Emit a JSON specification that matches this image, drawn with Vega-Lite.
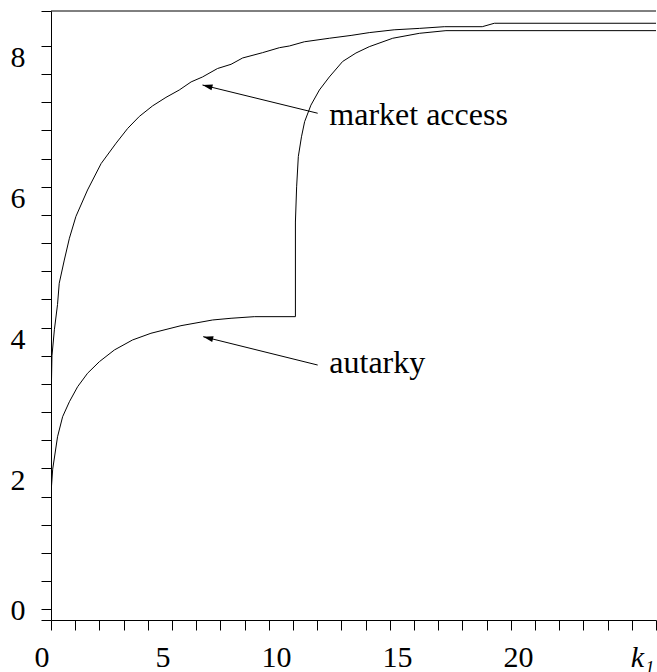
{
  "$schema": "https://vega.github.io/schema/vega-lite/v6.json",
  "width": 605,
  "height": 609,
  "autosize": "none",
  "padding": {"left": 51, "top": 11, "right": 1, "bottom": 52},
  "background": "white",
  "config": {"view": {"stroke": null}},
  "datasets": {
    "curves": [
      {"series": "market access", "order": 1, "x": 0, "y": 2.88},
      {"series": "market access", "order": 2, "x": 0.04, "y": 3.6},
      {"series": "market access", "order": 3, "x": 0.14, "y": 3.97},
      {"series": "market access", "order": 4, "x": 0.27, "y": 4.33},
      {"series": "market access", "order": 5, "x": 0.34, "y": 4.63},
      {"series": "market access", "order": 6, "x": 0.55, "y": 4.96},
      {"series": "market access", "order": 7, "x": 0.76, "y": 5.27},
      {"series": "market access", "order": 8, "x": 1.03, "y": 5.58},
      {"series": "market access", "order": 9, "x": 1.51, "y": 5.955},
      {"series": "market access", "order": 10, "x": 2.07, "y": 6.33},
      {"series": "market access", "order": 11, "x": 2.69, "y": 6.62},
      {"series": "market access", "order": 12, "x": 3.17, "y": 6.83},
      {"series": "market access", "order": 13, "x": 3.65, "y": 7.0},
      {"series": "market access", "order": 14, "x": 4.2, "y": 7.15},
      {"series": "market access", "order": 15, "x": 4.75, "y": 7.27},
      {"series": "market access", "order": 16, "x": 5.3, "y": 7.375},
      {"series": "market access", "order": 17, "x": 5.79, "y": 7.49},
      {"series": "market access", "order": 18, "x": 6.26, "y": 7.56},
      {"series": "market access", "order": 19, "x": 6.88, "y": 7.68},
      {"series": "market access", "order": 20, "x": 7.44, "y": 7.74},
      {"series": "market access", "order": 21, "x": 7.92, "y": 7.83},
      {"series": "market access", "order": 22, "x": 8.74, "y": 7.905},
      {"series": "market access", "order": 23, "x": 9.44, "y": 7.976},
      {"series": "market access", "order": 24, "x": 9.85, "y": 8.0},
      {"series": "market access", "order": 25, "x": 10.47, "y": 8.06},
      {"series": "market access", "order": 26, "x": 11.5, "y": 8.11},
      {"series": "market access", "order": 27, "x": 12.4, "y": 8.15},
      {"series": "market access", "order": 28, "x": 13.15, "y": 8.19},
      {"series": "market access", "order": 29, "x": 14.18, "y": 8.23},
      {"series": "market access", "order": 30, "x": 15.22, "y": 8.25},
      {"series": "market access", "order": 31, "x": 16.25, "y": 8.274},
      {"series": "market access", "order": 32, "x": 17.82, "y": 8.274},
      {"series": "market access", "order": 33, "x": 18.32, "y": 8.323},
      {"series": "market access", "order": 34, "x": 25, "y": 8.323},
      {"series": "autarky", "order": 1, "x": 0, "y": 1.65},
      {"series": "autarky", "order": 2, "x": 0.07, "y": 1.99},
      {"series": "autarky", "order": 3, "x": 0.27, "y": 2.45},
      {"series": "autarky", "order": 4, "x": 0.48, "y": 2.735},
      {"series": "autarky", "order": 5, "x": 0.76, "y": 2.948},
      {"series": "autarky", "order": 6, "x": 1.1, "y": 3.161},
      {"series": "autarky", "order": 7, "x": 1.51, "y": 3.352},
      {"series": "autarky", "order": 8, "x": 2.0, "y": 3.517},
      {"series": "autarky", "order": 9, "x": 2.62, "y": 3.683},
      {"series": "autarky", "order": 10, "x": 3.37, "y": 3.825},
      {"series": "autarky", "order": 11, "x": 4.13, "y": 3.92},
      {"series": "autarky", "order": 12, "x": 5.37, "y": 4.028},
      {"series": "autarky", "order": 13, "x": 6.68, "y": 4.109},
      {"series": "autarky", "order": 14, "x": 7.44, "y": 4.133},
      {"series": "autarky", "order": 15, "x": 8.4, "y": 4.156},
      {"series": "autarky", "order": 16, "x": 10.1, "y": 4.156},
      {"series": "autarky", "order": 17, "x": 10.1, "y": 5.5},
      {"series": "autarky", "order": 18, "x": 10.15, "y": 6.0},
      {"series": "autarky", "order": 19, "x": 10.22, "y": 6.43},
      {"series": "autarky", "order": 20, "x": 10.35, "y": 6.71},
      {"series": "autarky", "order": 21, "x": 10.48, "y": 6.925},
      {"series": "autarky", "order": 22, "x": 10.74, "y": 7.16},
      {"series": "autarky", "order": 23, "x": 11.09, "y": 7.375},
      {"series": "autarky", "order": 24, "x": 11.5, "y": 7.56},
      {"series": "autarky", "order": 25, "x": 12.05, "y": 7.78},
      {"series": "autarky", "order": 26, "x": 12.6, "y": 7.9},
      {"series": "autarky", "order": 27, "x": 13.15, "y": 7.99},
      {"series": "autarky", "order": 28, "x": 14.12, "y": 8.11},
      {"series": "autarky", "order": 29, "x": 15.22, "y": 8.18},
      {"series": "autarky", "order": 30, "x": 16.32, "y": 8.218},
      {"series": "autarky", "order": 31, "x": 25, "y": 8.218}
    ],
    "annotations": [
      {"label": "market access", "x": 6.26, "y": 7.446, "x2": 11.02, "y2": 7.045, "tx": 11.5, "ty": 6.878},
      {"label": "autarky", "x": 6.29, "y": 3.872, "x2": 11.02, "y2": 3.469, "tx": 11.5, "ty": 3.36}
    ]
  },
  "layer": [
    {
      "data": {"name": "curves"},
      "mark": {"type": "line", "stroke": "black", "strokeWidth": 1, "clip": true},
      "encoding": {
        "x": {
          "field": "x", "type": "quantitative",
          "scale": {"domain": [0, 25], "nice": false, "zero": false},
          "axis": {
            "title": null,
            "values": [0,1,2,3,4,5,6,7,8,9,10,11,12,13,14,15,16,17,18,19,20,21,22,23,24,25],
            "tickCount": 200,
            "grid": false,
            "domainColor": "black",
            "tickColor": "black",
            "tickSize": 10,
            "labelFont": "Liberation Serif",
            "labelFontSize": 30,
            "labelColor": "black",
            "labelAlign": "right",
            "labelBaseline": "alphabetic",
            "labelPadding": 36,
            "labelOffset": -2,
            "labelFlush": false,
            "labelOverlap": false,
            "labelBound": false,
            "labelFontStyle": {"condition": {"test": "datum.value == 25", "value": "italic"}, "value": "normal"},
            "labelExpr": "datum.value == 25 ? 'k₁' : (datum.value % 5 == 0 ? format(datum.value, 'd') : '')"
          }
        },
        "y": {
          "field": "y", "type": "quantitative",
          "scale": {"domain": [-0.152, 8.497], "nice": false, "zero": false},
          "axis": {
            "title": null,
            "values": [-0.152, 0, 0.4, 0.8, 1.2, 1.6, 2, 2.4, 2.8, 3.2, 3.6, 4, 4.4, 4.8, 5.2, 5.6, 6, 6.4, 6.8, 7.2, 7.6, 8, 8.497],
            "tickCount": 200,
            "grid": false,
            "domainColor": "black",
            "tickColor": "black",
            "tickSize": 10,
            "labelFont": "Liberation Serif",
            "labelFontSize": 30,
            "labelColor": "black",
            "labelAlign": "right",
            "labelBaseline": "alphabetic",
            "labelPadding": 16,
            "labelOffset": {"condition": {"test": "datum.value == 0", "value": 10}, "value": 21},
            "labelFlush": false,
            "labelOverlap": false,
            "labelBound": false,
            "labelExpr": "indexof([0,2,4,6,8], datum.value) >= 0 ? format(datum.value, 'd') : ''"
          }
        },
        "detail": {"field": "series"},
        "order": {"field": "order", "type": "quantitative"}
      }
    },
    {
      "data": {"values": [{}]},
      "mark": {"type": "rule", "stroke": "black", "strokeWidth": 1},
      "encoding": {"y": {"datum": 8.497}}
    },
    {
      "data": {"name": "annotations"},
      "mark": {"type": "rule", "stroke": "black", "strokeWidth": 1},
      "encoding": {
        "x": {"field": "x", "type": "quantitative", "title": null},
        "y": {"field": "y", "type": "quantitative", "title": null},
        "x2": {"field": "x2"},
        "y2": {"field": "y2"}
      }
    },
    {
      "data": {"name": "annotations"},
      "mark": {"type": "point", "shape": "M0,0 L1,-0.3 L1,0.3 Z", "filled": true, "fill": "black", "stroke": null, "size": 400, "angle": 13.8, "opacity": 1},
      "encoding": {
        "x": {"field": "x", "type": "quantitative", "title": null},
        "y": {"field": "y", "type": "quantitative", "title": null}
      }
    },
    {
      "data": {"name": "annotations"},
      "mark": {"type": "text", "align": "left", "baseline": "alphabetic", "font": "Liberation Serif", "fontSize": 32, "color": "black"},
      "encoding": {
        "x": {"field": "tx", "type": "quantitative", "title": null},
        "y": {"field": "ty", "type": "quantitative", "title": null},
        "text": {"field": "label"}
      }
    }
  ]
}
